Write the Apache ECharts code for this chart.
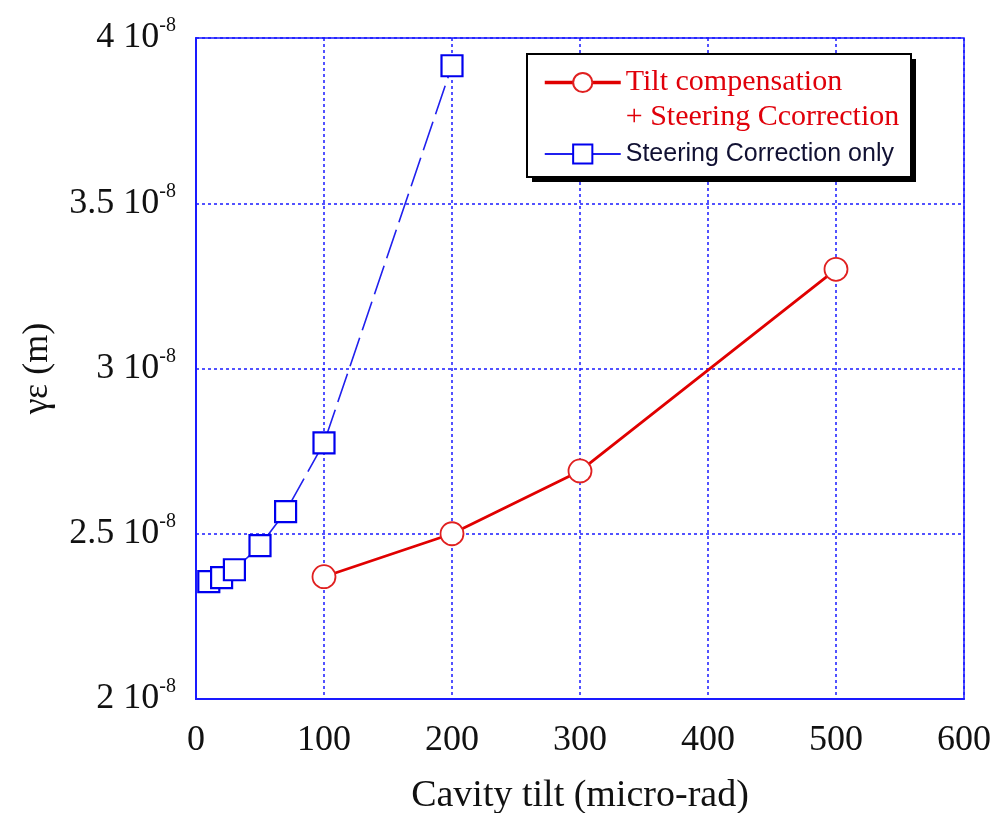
<!DOCTYPE html>
<html>
<head>
<meta charset="utf-8">
<script src="https://cdn.jsdelivr.net/npm/echarts@6/dist/echarts.min.js"></script>
<style>
  html, body { margin: 0; padding: 0; background: #fff; }
  #chart { width: 992px; height: 813px; }
</style>
</head>
<body>
<div id="chart"></div>
<script>
// Cavity tilt (micro-rad) vs emittance, values in units of 1e-8 m
const tiltCompX = [100, 200, 300, 500];
const tiltCompY = [2.37, 2.50, 2.69, 3.30];
const steeringX = [10, 20, 30, 50, 70, 100, 200];
const steeringY = [2.355, 2.367, 2.391, 2.464, 2.567, 2.775, 3.916];
const xTicks = [0, 100, 200, 300, 400, 500, 600];
const yTicks = [2, 2.5, 3, 3.5, 4];

const serif = '"Liberation Serif", "Times New Roman", serif';
const sans = '"Liberation Sans", Arial, sans-serif';
const gridBlue = '#1a1aff';

const pairs = (xs, ys) => xs.map((x, i) => [x, ys[i]]);
const nameTilt = 'Tilt compensation\n+ Steering Ccorrection';
const nameSteer = 'Steering Correction only';

const chart = echarts.init(document.getElementById('chart'));
chart.setOption({
  animation: false,
  backgroundColor: '#fff',
  grid: {
    left: 196, right: 28, top: 38, bottom: 114,
    outerBoundsMode: 'none', containLabel: false,
    show: true, borderColor: gridBlue, borderWidth: 1.5
  },
  xAxis: {
    type: 'value',
    min: xTicks[0], max: xTicks[xTicks.length - 1], interval: 100,
    name: 'Cavity tilt (micro-rad)',
    nameLocation: 'middle', nameGap: 78,
    nameTextStyle: { fontFamily: serif, fontSize: 38, color: '#111' },
    axisLine: { lineStyle: { color: gridBlue, width: 2 } },
    axisTick: { show: false },
    axisLabel: { fontFamily: serif, fontSize: 36, color: '#111', margin: 24 },
    splitLine: { lineStyle: { color: gridBlue, type: [3, 3], width: 1.5 } }
  },
  yAxis: {
    type: 'value',
    min: yTicks[0], max: yTicks[yTicks.length - 1], interval: 0.5,
    name: 'γε (m)',
    nameLocation: 'middle', nameGap: 140,
    nameTextStyle: { fontFamily: serif, fontSize: 36, color: '#111' },
    axisLine: { lineStyle: { color: gridBlue, width: 2 } },
    axisTick: { show: false },
    axisLabel: {
      margin: 20,
      formatter: v => '{a|' + v + ' 10}{b|-8}',
      rich: {
        a: { fontFamily: serif, fontSize: 36, color: '#111' },
        b: { fontFamily: serif, fontSize: 20, color: '#111', padding: [0, 0, 24, 0] }
      }
    },
    splitLine: { lineStyle: { color: gridBlue, type: [3, 3], width: 1.5 } }
  },
  // legend frame with a hard drop shadow
  graphic: [
    { type: 'rect', z: 3, shape: { x: 532, y: 59, width: 384, height: 123 }, style: { fill: '#000' } },
    { type: 'rect', z: 3, shape: { x: 527, y: 54, width: 384, height: 123 }, style: { fill: '#fff', stroke: '#000', lineWidth: 2 } }
  ],
  legend: {
    left: 543, top: 32.5,
    orient: 'vertical', align: 'left',
    padding: 0,
    itemWidth: 76, itemHeight: 24, itemGap: 9,
    z: 5,
    formatter: name => name === nameTilt
      ? '{p| }\n{t|Tilt compensation}\n{t|+ Steering Ccorrection}'
      : '{s|' + name + '}',
    textStyle: {
      rich: {
        p: { fontFamily: serif, fontSize: 30, lineHeight: 35 },
        t: { fontFamily: serif, fontSize: 30, lineHeight: 35, color: '#e0000a' },
        s: { fontFamily: sans, fontSize: 25, lineHeight: 30, color: '#111133' }
      }
    },
    data: [
      { name: nameTilt, lineStyle: { width: 3.5 } },
      { name: nameSteer, lineStyle: { type: 'solid', width: 1.8 } }
    ]
  },
  series: [
    {
      name: nameTilt,
      type: 'line',
      data: pairs(tiltCompX, tiltCompY),
      symbol: 'circle', symbolSize: 23,
      lineStyle: { color: '#e00000', width: 2.8 },
      itemStyle: { color: '#fff', borderColor: '#e02020', borderWidth: 1.8 },
      z: 3
    },
    {
      name: nameSteer,
      type: 'line',
      data: pairs(steeringX, steeringY),
      symbol: 'rect', symbolSize: 21,
      lineStyle: { color: '#2020ee', width: 1.6, type: [30, 8] },
      itemStyle: { color: '#fff', borderColor: '#0000ee', borderWidth: 2.2 },
      z: 3
    }
  ]
});
</script>
</body>
</html>
